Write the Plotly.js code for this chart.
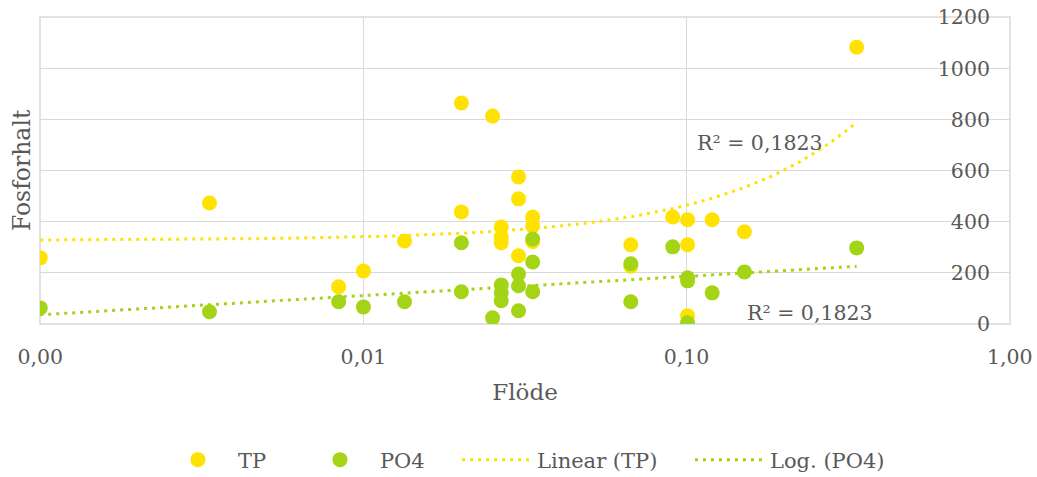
<!DOCTYPE html>
<html>
<head>
<meta charset="utf-8">
<script src="https://cdn.plot.ly/plotly-3.0.1.min.js"></script>
<style>html,body{margin:0;padding:0;background:#fff;}#chart{width:1037px;height:477px;}</style>
</head>
<body>
<div id="chart"></div>
<script>
// Flow (Flöde) values, shared by both series
const flow = [0.001, 0.00334, 0.00838, 0.01, 0.0134, 0.0201, 0.0201, 0.0251, 0.0267, 0.0267, 0.0267,
  0.0302, 0.0302, 0.0302, 0.0334, 0.0334, 0.0334, 0.0672, 0.0672, 0.0906, 0.1007, 0.1007, 0.1007,
  0.120, 0.151, 0.336];
const tp = [258, 473, 145, 207, 324, 864, 438, 813, 379, 340, 317,
  575, 489, 266, 418, 383, 322, 309, 225, 418, 407, 309, 31,
  407, 360, 1083];
const po4 = [62, 47, 86, 66, 86, 317, 125, 23, 152, 121, 90,
  195, 149, 51, 332, 242, 125, 235, 86, 301, 180, 168, 4,
  121, 203, 297];
const xTickVals = [0.001, 0.01, 0.1, 1];
const xTickText = ['0,00', '0,01', '0,10', '1,00'];
const yTickVals = [0, 200, 400, 600, 800, 1000, 1200];
const r2Labels = ['R² = 0,1823', 'R² = 0,1823'];

const YEL = '#FFE200', GRN = '#A3D416', TXT = '#595959', GRID = '#d9d9d9';
const FONT = 'DejaVu Serif, Liberation Serif, serif';

function fit(xs, ys) {
  const n = xs.length;
  const mx = xs.reduce((a, b) => a + b, 0) / n, my = ys.reduce((a, b) => a + b, 0) / n;
  let sxy = 0, sxx = 0;
  for (let i = 0; i < n; i++) { sxy += (xs[i] - mx) * (ys[i] - my); sxx += (xs[i] - mx) ** 2; }
  const b = sxy / sxx; return { a: my - b * mx, b: b };
}
const lin = fit(flow, tp);
const lg = fit(flow.map(Math.log), po4);
const xmin = Math.min(...flow), xmax = Math.max(...flow);
const tx = [];
for (let i = 0; i <= 120; i++) tx.push(Math.pow(10, Math.log10(xmin) + (Math.log10(xmax) - Math.log10(xmin)) * i / 120));
const linY = tx.map(x => lin.a + lin.b * x);
const logY = tx.map(x => lg.a + lg.b * Math.log(x));

const traces = [
  { x: flow, y: tp, type: 'scatter', mode: 'markers', name: 'TP', legend: 'legend', marker: { color: YEL, size: 15 } },
  { x: flow, y: po4, type: 'scatter', mode: 'markers', name: 'PO4', legend: 'legend2', marker: { color: GRN, size: 15 } },
  { x: tx, y: linY, type: 'scatter', mode: 'lines', name: 'Linear (TP)', legend: 'legend3', line: { color: YEL, width: 3, dash: '3px,5px' } },
  { x: tx, y: logY, type: 'scatter', mode: 'lines', name: 'Log. (PO4)', legend: 'legend4', line: { color: GRN, width: 3, dash: '3px,5px' } }
];

function leg(x) {
  return { orientation: 'h', x: x, xanchor: 'left', y: -0.443, yanchor: 'middle', itemwidth: 70,
    font: { family: FONT, size: 21, color: TXT }, itemsizing: 'trace', bgcolor: 'rgba(0,0,0,0)' };
}

const layout = {
  width: 1037, height: 477,
  margin: { l: 40, r: 27, t: 17, b: 153, autoexpand: false },
  paper_bgcolor: '#fff', plot_bgcolor: '#fff',
  font: { family: FONT, size: 20, color: TXT },
  showlegend: true,
  legend: leg(0.1216), legend2: leg(0.268), legend3: leg(0.4299), legend4: leg(0.6701),
  xaxis: {
    type: 'log', range: [-3.0008, 0.0008], tickvals: xTickVals, ticktext: xTickText,
    showgrid: true, gridcolor: GRID, gridwidth: 1.5, showline: false, zeroline: false,
    ticks: '', ticklabelstandoff: 18,
    tickfont: { family: FONT, size: 20.5, color: TXT },
    title: { text: 'Flöde', font: { family: FONT, size: 23, color: TXT }, standoff: 16 }
  },
  yaxis: {
    range: [-1, 1201], tickvals: yTickVals, side: 'left', anchor: 'free', position: 1,
    showgrid: true, gridcolor: GRID, gridwidth: 1.5, showline: false, zeroline: false,
    ticks: '', ticklabelstandoff: 20,
    tickfont: { family: FONT, size: 20.5, color: TXT },
    title: { text: '' }
  },
  shapes: [
    { type: 'rect', xref: 'paper', yref: 'paper', x0: 0, x1: 1, y0: 0, y1: 1, layer: 'below',
      line: { color: GRID, width: 1.5 } }
  ],
  annotations: [
    { xref: 'paper', yref: 'paper', x: 0.742, y: 0.59, xanchor: 'center', yanchor: 'middle', text: r2Labels[0], showarrow: false,
      font: { family: FONT, size: 20.5, color: TXT } },
    { xref: 'paper', yref: 'paper', x: 0.794, y: 0.036, xanchor: 'center', yanchor: 'middle', text: r2Labels[1], showarrow: false,
      font: { family: FONT, size: 20.5, color: TXT } },
    { xref: 'paper', yref: 'paper', x: -0.019, y: 0.5, text: 'Fosforhalt', textangle: -90, showarrow: false,
      xanchor: 'center', yanchor: 'middle', font: { family: FONT, size: 23.5, color: TXT } }
  ]
};

Plotly.newPlot('chart', traces, layout, { displayModeBar: false, staticPlot: true });
</script>
</body>
</html>
